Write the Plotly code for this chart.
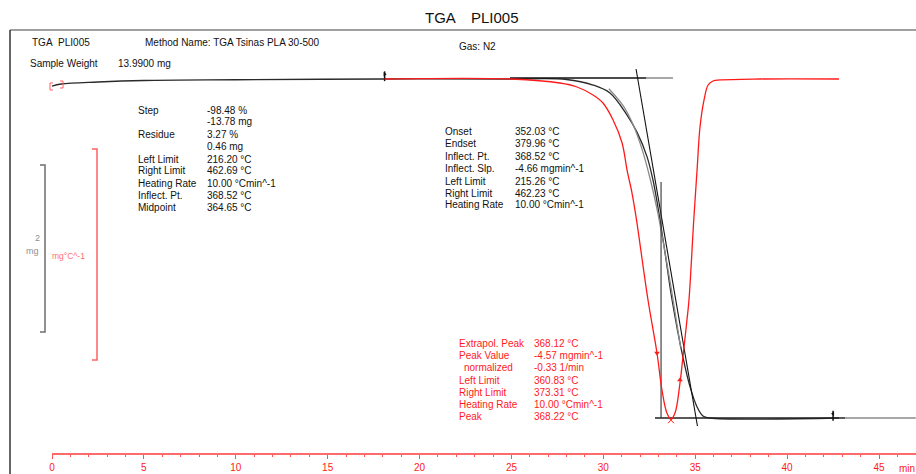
import plotly.graph_objects as go

# ---------------- data ----------------
# TGA weight curve (time in min, weight in mg)
tga_time = [0, 0.5, 2.5, 5, 10, 18, 25, 28, 29.44, 30.36, 31.29, 31.83, 32.38, 32.70, 32.97,
            33.35, 33.74, 34.33, 34.72, 35.10, 35.42, 35.80, 42.82]
tga_mg = [13.71, 13.79, 13.87, 13.93, 13.96, 13.99, 13.99, 13.97, 13.75, 13.43, 12.55, 11.87, 10.88,
          9.96, 8.88, 7.09, 5.17, 2.89, 1.70, 0.90, 0.54, 0.46, 0.46]
# grey evaluation curve overlay
grey_time = [30.3, 31.1, 31.6, 32.1, 32.55, 32.95, 33.3, 33.7, 34.2]
grey_mg = [13.6, 12.9, 12.2, 11.2, 10.0, 8.7, 7.3, 5.6, 3.3]
# DTG curve (time in min, mg/min)
dtg_time = [18.1, 25, 27.64, 28.57, 29.44, 29.98, 30.53, 31.02, 31.29, 31.56, 31.78, 32.43, 32.92,
            33.19, 33.46, 33.68, 33.90, 34.17, 34.33, 34.55, 34.66, 34.93, 35.10, 35.26, 35.48,
            35.70, 35.97, 36.35, 38.52, 42.82]
dtg_val = [0.0, 0.0, -0.054, -0.108, -0.216, -0.324, -0.553, -0.863, -1.227, -1.537, -1.860, -2.979,
           -3.694, -4.193, -4.503, -4.584, -4.503, -4.098, -3.748, -3.249, -2.979, -1.860, -1.227,
           -0.647, -0.283, -0.081, -0.027, -0.013, 0.0, 0.0]
dtg_arrow_time = [32.92, 34.17]
dtg_arrow_val = [-3.694, -4.058]
dtg_peak_time = [33.68]
dtg_peak_val = [-4.60]
# evaluation construction lines
tangent_time = [31.78, 35.12]
tangent_mg = [14.39, 0.14]
top_base_time = [24.92, 32.32]
top_base_grey_time = [32.32, 33.79]
top_base_mg = [14.03, 14.03]
bot_base_time = [32.81, 43.15]
bot_base_grey_time = [43.15, 47.0]
bot_base_mg = [0.46, 0.46]
inflect_time = [33.14, 33.14]
inflect_mg = [9.88, 0.46]
flag_time = [18.1, 42.5]
flag_mg = [14.1, 0.55]

x_ticks = [0, 5, 10, 15, 20, 25, 30, 35, 40, 45]
x_minor = [v for v in range(1, 47) if v % 5 != 0]

left_labels = ["Step", "", "Residue", "", "Left Limit", "Right Limit", "Heating Rate", "Inflect. Pt.", "Midpoint"]
left_values = ["-98.48 %", "-13.78 mg", "3.27 %", "0.46 mg", "216.20 °C", "462.69 °C",
               "10.00 °Cmin^-1", "368.52 °C", "364.65 °C"]
mid_labels = ["Onset", "Endset", "Inflect. Pt.", "Inflect. Slp.", "Left Limit", "Right Limit", "Heating Rate"]
mid_values = ["352.03 °C", "379.96 °C", "368.52 °C", "-4.66 mgmin^-1", "215.26 °C", "462.23 °C",
              "10.00 °Cmin^-1"]
red_labels = ["Extrapol. Peak", "Peak Value", "  normalized", "Left Limit", "Right Limit", "Heating Rate", "Peak"]
red_values = ["368.12 °C", "-4.57 mgmin^-1", "-0.33 1/min", "360.83 °C", "373.31 °C",
              "10.00 °Cmin^-1", "368.22 °C"]

# ---------------- figure ----------------
W, H = 916, 474
FONT = "Liberation Sans, Arial, sans-serif"
RED = "#ff1a1a"


def px(x):
    return x / W


def py(y):
    return 1 - y / H


fig = go.Figure()


def line(x, y, color, width, yaxis="y", shape="linear"):
    fig.add_trace(go.Scatter(x=x, y=y, mode="lines", yaxis=yaxis,
                             line=dict(color=color, width=width, shape=shape),
                             hoverinfo="skip"))


line(top_base_grey_time, top_base_mg, "#8a8a8a", 1.5)
line(bot_base_grey_time, bot_base_mg, "#8a8a8a", 1.5)
line(tga_time, tga_mg, "#2a2a2a", 1.3, shape="spline")
line(grey_time, grey_mg, "#8a8a8a", 1.3, shape="spline")
line(top_base_time, top_base_mg, "#111111", 1.6)
line(bot_base_time, bot_base_mg, "#222222", 1.6)
line(tangent_time, tangent_mg, "#111111", 1.1)
line(inflect_time, inflect_mg, "#333333", 1.1)
line(dtg_time, dtg_val, RED, 1.3, yaxis="y2", shape="spline")

fig.add_trace(go.Scatter(x=dtg_arrow_time, y=dtg_arrow_val, mode="markers", yaxis="y2",
                         marker=dict(symbol=["triangle-down", "triangle-up"], size=5, color=RED),
                         hoverinfo="skip"))
fig.add_trace(go.Scatter(x=dtg_peak_time, y=dtg_peak_val, mode="markers", yaxis="y2",
                         marker=dict(symbol="x-thin", size=6, line=dict(color=RED, width=1)),
                         hoverinfo="skip"))
fig.add_trace(go.Scatter(x=flag_time, y=flag_mg, mode="markers",
                         marker=dict(symbol="line-ns", size=7, line=dict(color="#111", width=1.5)),
                         hoverinfo="skip"))
fig.add_trace(go.Scatter(x=flag_time, y=[v + 0.08 for v in flag_mg], mode="markers",
                         marker=dict(symbol=["triangle-right", "triangle-left"], size=4, color="#111"),
                         hoverinfo="skip"))

xr = [-52 / 18.378, (W - 52) / 18.378]
shapes = []
# x axis line
shapes.append(dict(type="line", xref="x", yref="paper", x0=0, x1=xr[1], y0=py(454), y1=py(454),
                   line=dict(color="#ff6a6a", width=2)))
# frame
shapes.append(dict(type="line", xref="paper", yref="paper", x0=px(10), x1=1, y0=py(30), y1=py(30),
                   line=dict(color="#808080", width=1.5)))
shapes.append(dict(type="line", xref="paper", yref="paper", x0=px(10), x1=px(10), y0=py(30), y1=0,
                   line=dict(color="#333333", width=1.5)))


def bracket(x, y0, y1, color, w=5):
    shapes.append(dict(type="path", xref="paper", yref="paper",
                       path=f"M {px(x - w)},{py(y0)} L {px(x)},{py(y0)} L {px(x)},{py(y1)} L {px(x - w)},{py(y1)}",
                       line=dict(color=color, width=1.5)))


bracket(45, 165, 332, "#6e6e6e")
bracket(97, 149, 360, "#ff6060")
# tiny red bracket near curve start
shapes.append(dict(type="path", xref="paper", yref="paper",
                   path=f"M {px(53)},{py(83)} L {px(50)},{py(83)} L {px(50)},{py(90)} L {px(53)},{py(90)}",
                   line=dict(color="#ff6060", width=1)))
shapes.append(dict(type="path", xref="paper", yref="paper",
                   path=f"M {px(60)},{py(81)} L {px(63)},{py(81)} L {px(63)},{py(88)} L {px(60)},{py(88)}",
                   line=dict(color="#ff6060", width=1)))

ann = []


def text(x, y, s, color="#111", size=10, xanchor="left"):
    ann.append(dict(x=px(x), y=py(y), xref="paper", yref="paper", text=s, showarrow=False,
                    xanchor=xanchor, yanchor="middle", font=dict(family=FONT, size=size, color=color)))


text(423, 18, "TGA", size=15)
text(469, 18, "PLI005", size=15)
text(30, 42, "TGA\u00a0\u00a0PLI005")
text(143, 42, "Method Name: TGA Tsinas PLA 30-500")
text(457, 46, "Gas: N2")
text(28, 63, "Sample Weight")
text(116, 63, "13.9900 mg")
text(37, 238, "2", color="#909090", size=9, xanchor="center")
text(24, 251, "mg", color="#909090", size=9)
text(50, 256, "mg°C^-1", color="#ff7070", size=8.5)
text(W - 9, 468, "min", color=RED, size=10, xanchor="center")

left_rows = [110, 122, 134, 146, 159, 171, 183, 195, 207]
for lab, val, y in zip(left_labels, left_values, left_rows):
    if lab:
        text(136, y, lab)
    text(205, y, val)

mid_rows = [131, 143, 156, 168, 181, 193, 205]
for lab, val, y in zip(mid_labels, mid_values, mid_rows):
    text(443, y, lab)
    text(513, y, val)

red_rows = [343, 355, 367, 380, 392, 404, 416]
for lab, val, y in zip(red_labels, red_values, red_rows):
    text(462 if lab.startswith(" ") else 457, y, lab.strip(), color=RED)
    text(532, y, val, color=RED)

fig.update_layout(
    width=W, height=H, margin=dict(l=0, r=0, t=0, b=0),
    paper_bgcolor="white", plot_bgcolor="white", showlegend=False,
    xaxis=dict(range=xr, anchor="free", position=py(454), showline=False, showgrid=False,
               zeroline=False, tickmode="array", tickvals=x_ticks, ticks="outside", ticklen=4,
               tickwidth=1, tickcolor="#ff5050", tickfont=dict(family=FONT, size=10, color=RED),
               minor=dict(tickmode="array", tickvals=x_minor, ticks="outside", ticklen=2,
                          tickcolor="#ff5050", showgrid=False)),
    yaxis=dict(range=[-1.775, 17.143], visible=False),
    yaxis2=dict(range=[-5.325, 1.065], overlaying="y", visible=False),
    shapes=shapes, annotations=ann,
)

fig.write_html("out.html")
